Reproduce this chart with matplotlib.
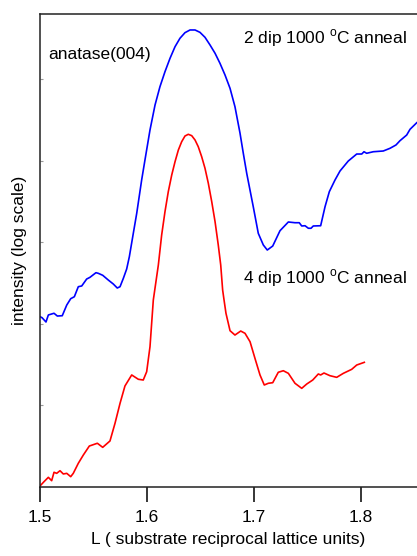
import numpy as np
import matplotlib
matplotlib.use("Agg")
import matplotlib.pyplot as plt

plt.rcParams['font.family'] = ['Liberation Sans', 'DejaVu Sans']
plt.rcParams['mathtext.fontset'] = 'custom'
plt.rcParams['mathtext.rm'] = 'Liberation Sans'

# anatase(004) rod scans: L and log10(intensity)
L_2dip = [1.5000, 1.5019, 1.5056, 1.5078, 1.5131, 1.5162, 1.5208, 1.5250, 1.5287, 1.5321,
          1.5358, 1.5390, 1.5436, 1.5467, 1.5523, 1.5545, 1.5586, 1.5638, 1.5685, 1.5722,
          1.5748, 1.5779, 1.5810, 1.5835, 1.5872, 1.5904, 1.5950, 1.5981, 1.6028, 1.6075,
          1.6121, 1.6168, 1.6215, 1.6262, 1.6308, 1.6355, 1.6402, 1.6449, 1.6495, 1.6542,
          1.6589, 1.6636, 1.6682, 1.6729, 1.6776, 1.6822, 1.6869, 1.6900,
          1.6932, 1.6993, 1.7040, 1.7087, 1.7124, 1.7175, 1.7243, 1.7321, 1.7383, 1.7423,
          1.7446, 1.7477, 1.7508, 1.7533, 1.7554, 1.7623, 1.7664, 1.7704, 1.7757, 1.7804,
          1.7881, 1.7960, 1.8007, 1.8028, 1.8053, 1.8115, 1.8208, 1.8271, 1.8327, 1.8364,
          1.8427, 1.8458, 1.8521]
logI_2dip = [2.086, 2.074, 2.021, 2.107, 2.128, 2.094, 2.098, 2.229, 2.307, 2.331,
             2.454, 2.463, 2.548, 2.569, 2.626, 2.618, 2.594, 2.536, 2.487, 2.438,
             2.454, 2.557, 2.671, 2.822, 3.109, 3.355, 3.763, 4.009, 4.377, 4.683,
             4.908, 5.092, 5.256, 5.399, 5.502, 5.571, 5.604, 5.604, 5.575, 5.514,
             5.420, 5.318, 5.195, 5.052, 4.888, 4.663, 4.340, 4.091,
             3.845, 3.436, 3.109, 2.966, 2.904, 2.953, 3.141, 3.248, 3.239, 3.239,
             3.199, 3.202, 3.171, 3.171, 3.199, 3.202, 3.436, 3.620, 3.763, 3.874,
             3.996, 4.082, 4.082, 4.110, 4.091, 4.110, 4.119, 4.152, 4.193, 4.245,
             4.315, 4.385, 4.466]

L_4dip = [1.5000, 1.5037, 1.5078, 1.5109, 1.5131, 1.5156, 1.5187, 1.5218, 1.5250, 1.5287,
          1.5311, 1.5358, 1.5405, 1.5461, 1.5536, 1.5586, 1.5654, 1.5701, 1.5748, 1.5794,
          1.5857, 1.5919, 1.5965, 1.5997, 1.6028, 1.6059, 1.6106, 1.6137, 1.6168, 1.6199,
          1.6231, 1.6262, 1.6293, 1.6324, 1.6355, 1.6386, 1.6418, 1.6449, 1.6479, 1.6511,
          1.6542, 1.6573, 1.6605, 1.6636, 1.6666, 1.6689, 1.6707, 1.6720, 1.6738, 1.6776,
          1.6822, 1.6876, 1.6916, 1.6963, 1.7009, 1.7056, 1.7096, 1.7134, 1.7175, 1.7227,
          1.7274, 1.7321, 1.7383, 1.7446, 1.7493, 1.7549, 1.7601, 1.7623, 1.7654, 1.7710,
          1.7773, 1.7835, 1.7913, 1.7960, 1.8031]
logI_4dip = [0.009, 0.061, 0.115, 0.074, 0.177, 0.164, 0.196, 0.156, 0.164, 0.123,
             0.164, 0.287, 0.389, 0.499, 0.533, 0.483, 0.561, 0.778, 1.023, 1.236,
             1.371, 1.318, 1.309, 1.411, 1.718, 2.291, 2.720, 3.088, 3.374, 3.620,
             3.824, 3.988, 4.131, 4.233, 4.303, 4.324, 4.307, 4.254, 4.172, 4.049,
             3.907, 3.723, 3.497, 3.252, 2.966, 2.720, 2.413, 2.291, 2.128, 1.914,
             1.861, 1.910, 1.882, 1.779, 1.575, 1.371, 1.248, 1.269, 1.276, 1.404,
             1.423, 1.391, 1.269, 1.207, 1.260, 1.309, 1.383, 1.371, 1.395, 1.362,
             1.342, 1.391, 1.440, 1.493, 1.526]

xticks = [1.5, 1.6, 1.7, 1.8]

fig = plt.figure(figsize=(4.17, 5.56), dpi=100)
ax = fig.add_axes([40/417, 69.3/556, 377/417, 472.7/556])

ax.plot(L_2dip, 10 ** np.array(logI_2dip), color='#0000ff', lw=1.2)
ax.plot(L_4dip, 10 ** np.array(logI_4dip), color='#ff0000', lw=1.2)

ax.set_yscale('log')
ax.set_xlim(1.5, 1.5 + 377 / 1070)
ax.set_ylim(1, 10 ** 5.8)

ax.set_xticks(xticks)
ax.set_xticklabels([str(t) for t in xticks])
ax.tick_params(axis='x', direction='out', length=11, width=1.1, labelsize=12.5, pad=6)
ax.set_yticks([10 ** k for k in range(1, 6)])
ax.yaxis.set_minor_locator(matplotlib.ticker.NullLocator())
ax.tick_params(axis='y', direction='in', length=2, width=0.8, color='0.6', labelleft=False)

for side in ['left', 'bottom', 'top']:
    ax.spines[side].set_linewidth(1.1)
    ax.spines[side].set_color('#222222')
ax.spines['right'].set_visible(False)

ax.set_xlabel('L ( substrate reciprocal lattice units)', fontsize=12.5, labelpad=5)
ax.set_ylabel('intensity (log scale)', fontsize=12.5, labelpad=9)

ax.text(0.021, 0.915, 'anatase(004)', transform=ax.transAxes, fontsize=12.5, va='center')
ax.text(0.538, 0.949, r'2 dip 1000 $^\mathrm{o}$C anneal', transform=ax.transAxes,
        fontsize=12.5, va='center')
ax.text(0.538, 0.4415, r'4 dip 1000 $^\mathrm{o}$C anneal', transform=ax.transAxes,
        fontsize=12.5, va='center')

fig.savefig('out.png', dpi=100)
